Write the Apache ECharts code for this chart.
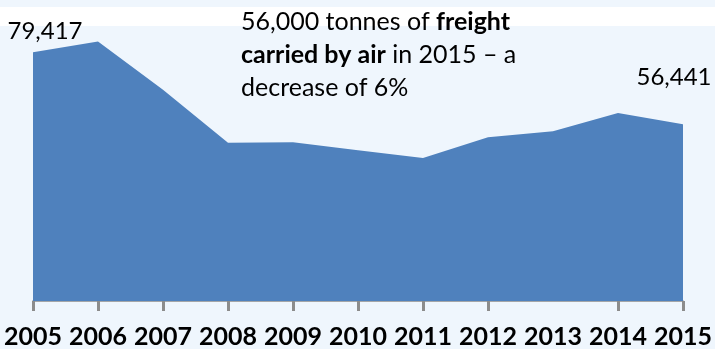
<!DOCTYPE html>
<html>
<head>
<meta charset="utf-8">
<script src="https://cdn.jsdelivr.net/npm/echarts@6/dist/echarts.min.js"></script>
<style>
  html, body { margin: 0; padding: 0; background: #EFF6FD; }
  #chart { width: 715px; height: 349px; }
</style>
</head>
<body>
<div id="chart"></div>
<script>
// Air freight carried, tonnes per year
const years = ['2005', '2006', '2007', '2008', '2009', '2010', '2011', '2012', '2013', '2014', '2015'];
const tonnes = [79417, 82800, 67400, 50500, 50700, 48100, 45600, 52300, 54200, 60000, 56441];
// Only the first and last years carry a value label
const labelledIdx = [0, 10];
const labelOffsets = [[12, -4], [-9, -30]];

const FONT = 'Lato, "Open Sans", "Liberation Sans", sans-serif';
const chart = echarts.init(document.getElementById('chart'));

const seriesData = tonnes.map((v, i) => {
  const k = labelledIdx.indexOf(i);
  if (k < 0) return v;
  return {
    value: v,
    label: {
      show: true,
      position: 'top',
      distance: 5,
      offset: labelOffsets[k],
      formatter: (p) => p.value.toLocaleString('en-GB'),
      fontFamily: FONT,
      fontSize: 24,
      color: '#000'
    }
  };
});

chart.setOption({
  backgroundColor: '#EFF6FD',
  animation: false,
  graphic: [
    {
      type: 'rect',
      left: 0, top: 7,
      shape: { width: 715, height: 19 },
      style: { fill: '#FFFFFF' },
      z: -10
    },
    {
      type: 'text',
      left: 241, top: 9,
      z: 100,
      style: {
        text: '{n|56,000 tonnes of }{b|freight}\n{b|carried by air}{n| in 2015 – a}\n{n|decrease of 6%}',
        rich: {
          n: { fontFamily: FONT, fontSize: 25, color: '#000', lineHeight: 33.3 },
          b: { fontFamily: FONT, fontSize: 25, fontWeight: 'bold', color: '#2D5A92', lineHeight: 33.3 }
        }
      }
    }
  ],
  grid: { left: 33, right: 28, top: 19, bottom: 47 },
  xAxis: {
    type: 'category',
    data: years,
    boundaryGap: false,
    axisLine: { show: true, lineStyle: { color: '#8C8C8C', width: 1.5 } },
    axisTick: {
      show: true,
      length: 10,
      interval: (i) => i !== 8,
      lineStyle: { color: '#8C8C8C', width: 3 }
    },
    axisLabel: {
      fontFamily: FONT,
      fontSize: 25,
      fontWeight: 'bold',
      color: '#000',
      margin: 23,
      interval: 0
    }
  },
  yAxis: {
    type: 'value',
    min: 0,
    max: 90000,
    show: false,
    splitLine: { show: false }
  },
  series: [
    {
      type: 'line',
      data: seriesData,
      symbol: 'circle',
      symbolSize: 0,
      showSymbol: true,
      lineStyle: { width: 0 },
      areaStyle: { color: '#4F81BD', opacity: 1 },
      itemStyle: { color: '#4F81BD' }
    }
  ]
});
</script>
</body>
</html>
